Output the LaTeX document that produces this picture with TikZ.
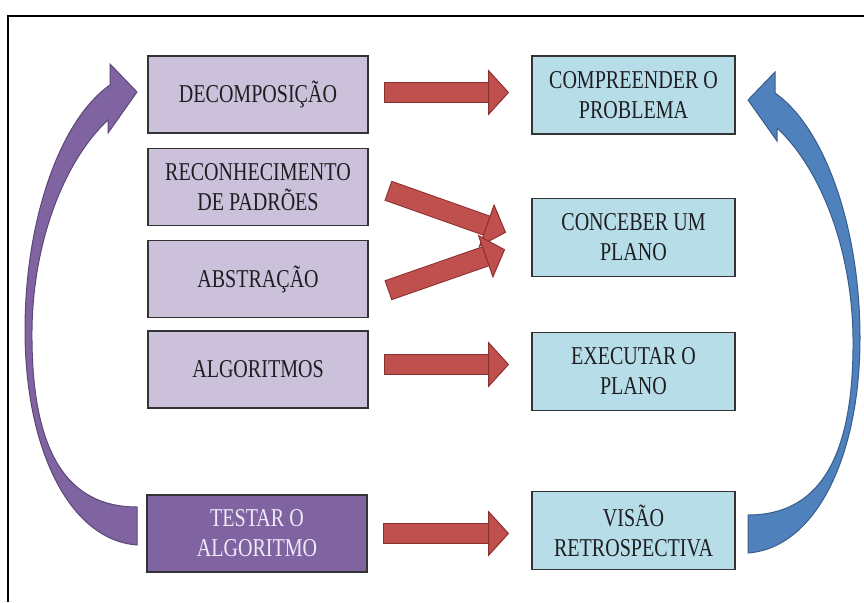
\documentclass[tikz,border=0pt]{standalone}
\usepackage{fontspec}
\setmainfont{Liberation Serif}[FakeStretch=0.78]
\usepackage{tikz}
\usetikzlibrary{arrows.meta,calc}
\definecolor{ink}{RGB}{30,30,34}
\definecolor{lilac}{RGB}{204,193,218}
\definecolor{plum}{RGB}{128,100,162}
\definecolor{plumdark}{RGB}{92,71,118}
\definecolor{sky}{RGB}{183,222,232}
\definecolor{steel}{RGB}{79,129,189}
\definecolor{steeldark}{RGB}{56,93,138}
\definecolor{brick}{RGB}{192,80,77}
\definecolor{brickdark}{RGB}{140,48,46}
\definecolor{pale}{RGB}{238,234,246}

\tikzset{
  stage/.style={draw=black!80,line width=1.8pt,inner sep=0pt,align=center,
    font=\fontsize{25.7}{30}\selectfont,text=ink},
  thinkbox/.style={stage,fill=lilac,minimum width=220pt,minimum height=77pt},
  polyabox/.style={stage,fill=sky,minimum width=203pt,minimum height=78pt},
  redarrow/.style={draw=brick,line width=19pt,
    preaction={-,draw=brickdark,line width=21pt,shorten >=18pt,shorten <=-1pt},
    -{Triangle[length=21pt,width=46pt,fill=brick,color=brickdark,line width=1pt]}},
  loop arrow/.pic={
    \path[pic actions] (137,507) -- (137,545)
      .. controls (70,540) and (25,450) .. (25,330)
      .. controls (25,220) and (60,120) .. (110,85)
      -- (110,64) -- (137,92) -- (108,133) -- (108,120)
      .. controls (65,160) and (33,240) .. (32,330)
      .. controls (31,440) and (60,507) .. (137,507) -- cycle;
  }
}

\begin{document}
\begin{tikzpicture}[x=1pt,y=-1pt]
  \useasboundingbox (0,0) rectangle (864,602);
  % frame, cut off at the right and bottom
  \draw[line width=1.5pt] (8,602) -- (8,16) -- (864,16);

  % thinking steps
  \node[thinkbox] (decomp) at (258,94.5) {DECOMPOSIÇÃO};
  \node[thinkbox] (recon) at (258,187) {RECONHECIMENTO\\DE PADRÕES};
  \node[thinkbox] (abstr) at (258,279) {ABSTRAÇÃO};
  \node[thinkbox] (algor) at (258,369.5) {ALGORITMOS};
  \node[thinkbox,fill=plum,text=pale] (testar) at (257,533.5) {TESTAR O\\ALGORITMO};

  % Polya steps
  \node[polyabox] (compr) at (633.5,95) {COMPREENDER O\\PROBLEMA};
  \node[polyabox] (conceb) at (633.5,237.5) {CONCEBER UM\\PLANO};
  \node[polyabox] (exec) at (633.5,371.5) {EXECUTAR O\\PLANO};
  \node[polyabox] (visao) at (633.5,530.5) {VISÃO\\RETROSPECTIVA};

  % links
  \draw[redarrow] ($(decomp.east)+(16,-2)$) -- ($(decomp.east -| compr.west)+(-22,-2)$);
  \draw[redarrow] ($(recon.east)+(20,4)$) -- ($(conceb.west)+(-25,-5)$);
  \draw[redarrow] ($(abstr.east)+(20,11)$) -- ($(conceb.west)+(-26,12)$);
  \draw[redarrow] ($(algor.east)+(16,-5)$) -- ($(algor.east -| exec.west)+(-22,-5)$);
  \draw[redarrow] ($(testar.east)+(16,0)$) -- ($(testar.east -| visao.west)+(-22,0)$);

  % loops back to the top
  \pic[fill=plum,draw=plumdark,line width=1pt] (purpleloop) at (0,0) {loop arrow};
  \pic[fill=steel,draw=steeldark,line width=1pt,xscale=-1] (blueloop) at (885,8) {loop arrow};
\end{tikzpicture}
\end{document}
